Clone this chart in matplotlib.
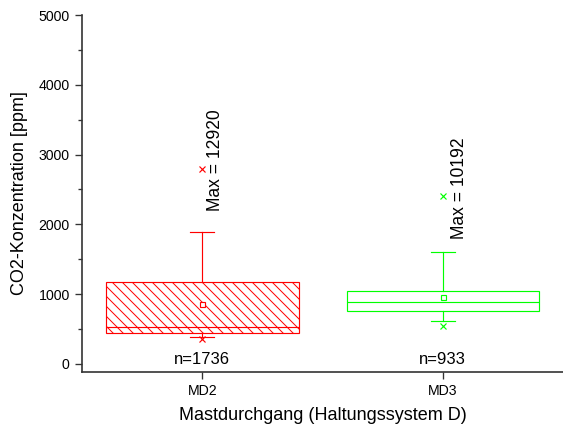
import matplotlib
matplotlib.use('Agg')
import matplotlib.pyplot as plt
from matplotlib.ticker import MultipleLocator

# values (ppm)
groups = ['MD2', 'MD3']
q1 = [443, 757]
medians = [529, 886]
q3 = [1171, 1043]
whis_lo = [386, 614]
whis_hi = [1886, 1600]
means = [857, 957]
extremes = [[360, 2800], [540, 2400]]   # x markers (min / max shown)
n_values = [1736, 933]
max_values = [12920, 10192]
colors = ['#ff0000', '#00ff00']
hatches = ['\\\\\\\\', '']

plt.rcParams['font.family'] = ['Liberation Sans', 'DejaVu Sans']
plt.rcParams['hatch.linewidth'] = 0.6

fig = plt.figure(figsize=(563 / 120, 430 / 120), dpi=120)
ax = fig.add_axes([0.146, 0.135, 0.854, 0.830])

stats = []
for i, g in enumerate(groups):
    stats.append({'label': g, 'q1': q1[i], 'med': medians[i], 'q3': q3[i],
                  'whislo': whis_lo[i], 'whishi': whis_hi[i],
                  'mean': means[i], 'fliers': extremes[i]})

for i, s in enumerate(stats):
    c = colors[i]
    bp = ax.bxp([s], positions=[i + 1], widths=0.8, capwidths=0.1,
                showmeans=True, patch_artist=True,
                boxprops=dict(facecolor='white', edgecolor=c, linewidth=0.7),
                medianprops=dict(color=c, linewidth=0.7),
                whiskerprops=dict(color=c, linewidth=0.7),
                capprops=dict(color=c, linewidth=0.7),
                meanprops=dict(marker='s', markerfacecolor='white',
                               markeredgecolor=c, markersize=3,
                               markeredgewidth=0.7),
                flierprops=dict(marker='x', markeredgecolor=c, markersize=4,
                                markeredgewidth=0.7))
    for box in bp['boxes']:
        box.set_hatch(hatches[i])

ax.text(1.055, 2920, 'Max = %d' % max_values[0], rotation=90,
        ha='center', va='center', fontsize=10.5)
ax.text(2.07, 2520, 'Max = %d' % max_values[1], rotation=90,
        ha='center', va='center', fontsize=10.5)
for i, n in enumerate(n_values):
    ax.text(i + 1, 60, 'n=%d' % n, ha='center', va='center', fontsize=10)

ax.set_xlim(0.5, 2.5)
ax.set_ylim(-115, 5000)
ax.set_xticks([1, 2])
ax.set_xticklabels(groups)
ax.yaxis.set_major_locator(MultipleLocator(1000))
ax.yaxis.set_minor_locator(MultipleLocator(500))
ax.tick_params(axis='both', which='major', length=4, width=0.8,
               labelsize=8.5, color='#333333')
ax.tick_params(axis='y', which='minor', length=2.5, width=0.8, color='#333333')
ax.tick_params(axis='x', which='minor', bottom=False)

for side in ['top', 'right']:
    ax.spines[side].set_visible(False)
for side in ['left', 'bottom']:
    ax.spines[side].set_linewidth(1.0)
    ax.spines[side].set_color('#333333')

ax.set_xlabel('Mastdurchgang (Haltungssystem D)', fontsize=10.8, labelpad=5)
ax.set_ylabel('CO2-Konzentration [ppm]', fontsize=10.8, labelpad=6)

fig.savefig('out.png', dpi=120)
